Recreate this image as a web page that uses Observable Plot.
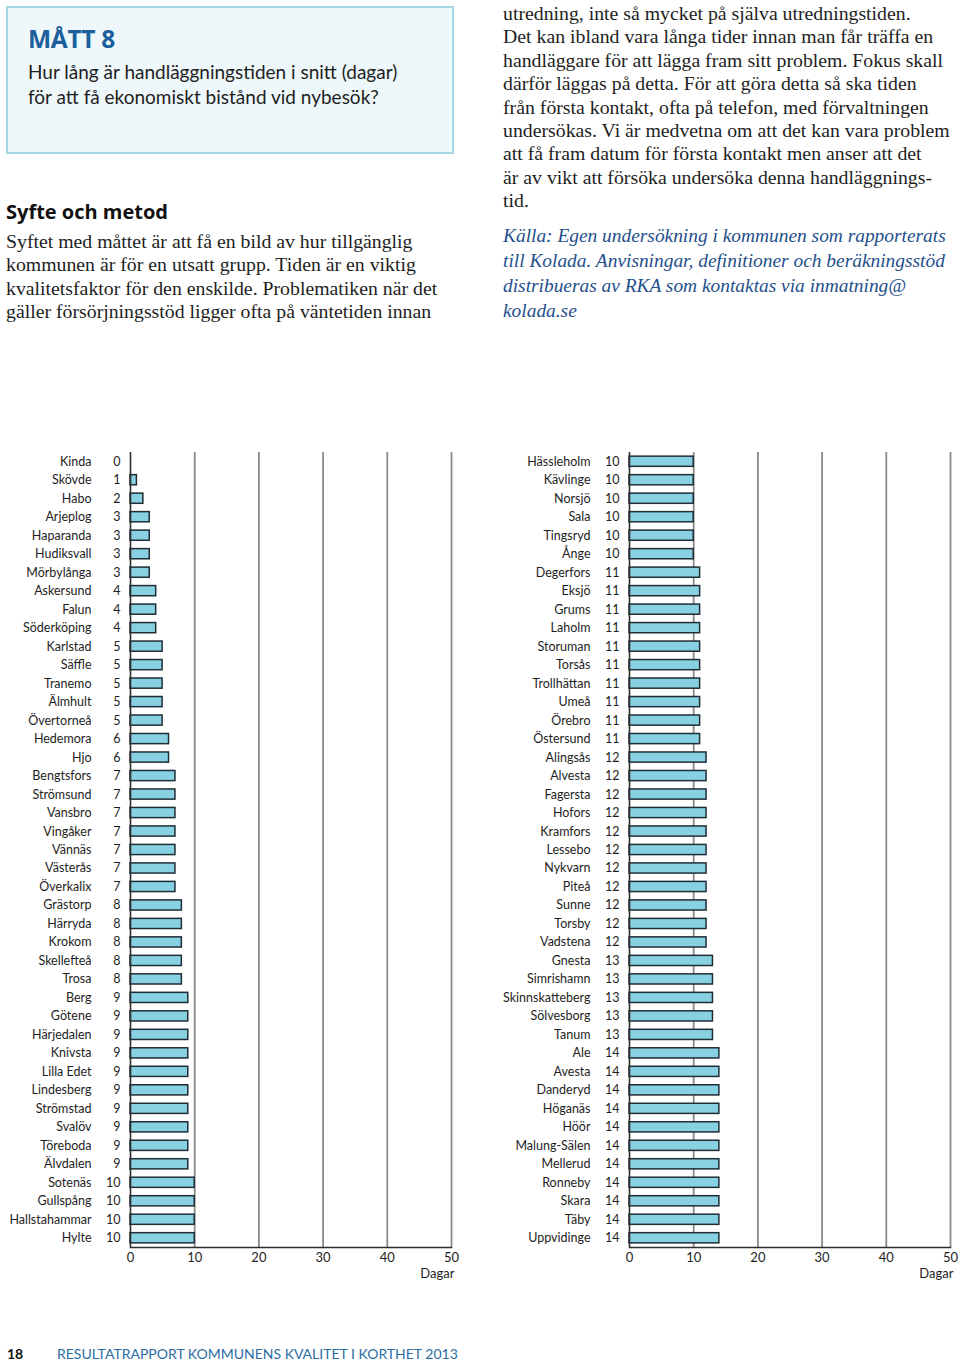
<!DOCTYPE html>
<html>
<head>
<meta charset="utf-8">
<script src="https://cdn.jsdelivr.net/npm/d3@7"></script>
<script src="https://cdn.jsdelivr.net/npm/@observablehq/plot@0.6"></script>
<style>
  html, body { margin: 0; padding: 0; background: #fff; }
  body { width: 960px; height: 1363px; position: relative; overflow: hidden; color: #1e1e1e; }
  .abs { position: absolute; white-space: nowrap; }
  .box { position: absolute; left: 6px; top: 6px; width: 444px; height: 144px; background: #eef7fa; border: 2px solid #a6d6e3; }
  .matt { font-family: "Open Sans", sans-serif; font-weight: 700; font-size: 24.5px; line-height: 30px; color: #1b5f9c; letter-spacing: -0.3px; }
  .q { font-family: "Lato", sans-serif; font-size: 19px; line-height: 25px; color: #1e1e1e; }
  .h2 { font-family: "Open Sans", sans-serif; font-weight: 700; font-size: 20px; line-height: 26px; color: #111; }
  .serif { font-family: "Liberation Serif", serif; font-size: 19.8px; line-height: 23.4px; color: #1e1e1e; }
  .kalla { font-family: "Liberation Serif", serif; font-style: italic; font-size: 19.4px; line-height: 25px; color: #1f4f8c; }
  .foot { font-family: "Lato", sans-serif; font-size: 14px; line-height: 18px; }
  .chart { position: absolute; top: 440px; }
</style>
</head>
<body>
<div class="box"></div>
<div class="abs matt" style="left:28px; top:24px;">MÅTT 8</div>
<div class="abs q" style="left:28px; top:59px;">Hur lång är handläggningstiden i snitt (dagar)<br>för att få ekonomiskt bistånd vid nybesök?</div>
<div class="abs h2" style="left:6px; top:199px;">Syfte och metod</div>
<div class="abs serif" style="left:6px; top:230px;">Syftet med måttet är att få en bild av hur tillgänglig<br>kommunen är för en utsatt grupp. Tiden är en viktig<br>kvalitetsfaktor för den enskilde. Problematiken när det<br>gäller försörjningsstöd ligger ofta på väntetiden innan</div>
<div class="abs serif" style="left:503px; top:2px;">utredning, inte så mycket på själva utredningstiden.<br>Det kan ibland vara långa tider innan man får träffa en<br>handläggare för att lägga fram sitt problem. Fokus skall<br>därför läggas på detta. För att göra detta så ska tiden<br>från första kontakt, ofta på telefon, med förvaltningen<br>undersökas. Vi är medvetna om att det kan vara problem<br>att få fram datum för första kontakt men anser att det<br>är av vikt att försöka undersöka denna handläggnings-<br>tid.</div>
<div class="abs kalla" style="left:503px; top:223px;">Källa: Egen undersökning i kommunen som rapporterats<br>till Kolada. Anvisningar, definitioner och beräkningsstöd<br>distribueras av RKA som kontaktas via inmatning@<br>kolada.se</div>
<div id="left" class="chart" style="left:0px;"></div>
<div id="right" class="chart" style="left:480px;"></div>
<div class="abs foot" style="left:7px; top:1345px; font-weight:700; color:#111;">18</div>
<div class="abs foot" style="left:57px; top:1345px; color:#2b6ca3;">RESULTATRAPPORT KOMMUNENS KVALITET I KORTHET 2013</div>
<script>
const leftNames = ["Kinda","Skövde","Habo","Arjeplog","Haparanda","Hudiksvall","Mörbylånga","Askersund","Falun","Söderköping","Karlstad","Säffle","Tranemo","Älmhult","Övertorneå","Hedemora","Hjo","Bengtsfors","Strömsund","Vansbro","Vingåker","Vännäs","Västerås","Överkalix","Grästorp","Härryda","Krokom","Skellefteå","Trosa","Berg","Götene","Härjedalen","Knivsta","Lilla Edet","Lindesberg","Strömstad","Svalöv","Töreboda","Älvdalen","Sotenäs","Gullspång","Hallstahammar","Hylte"];
const leftValues = [0,1,2,3,3,3,3,4,4,4,5,5,5,5,5,6,6,7,7,7,7,7,7,7,8,8,8,8,8,9,9,9,9,9,9,9,9,9,9,10,10,10,10];
const rightNames = ["Hässleholm","Kävlinge","Norsjö","Sala","Tingsryd","Ånge","Degerfors","Eksjö","Grums","Laholm","Storuman","Torsås","Trollhättan","Umeå","Örebro","Östersund","Alingsås","Alvesta","Fagersta","Hofors","Kramfors","Lessebo","Nykvarn","Piteå","Sunne","Torsby","Vadstena","Gnesta","Simrishamn","Skinnskatteberg","Sölvesborg","Tanum","Ale","Avesta","Danderyd","Höganäs","Höör","Malung-Sälen","Mellerud","Ronneby","Skara","Täby","Uppvidinge"];
const rightValues = [10,10,10,10,10,10,11,11,11,11,11,11,11,11,11,11,12,12,12,12,12,12,12,12,12,12,12,13,13,13,13,13,14,14,14,14,14,14,14,14,14,14,14];
const xTicks = [0,10,20,30,40,50];
const gridTicks = [10,20,30,40,50];
const xLabel = "Dagar";

function chart(names, values, width, marginLeft, marginRight) {
  const data = names.map((n, i) => ({name: n, value: values[i]}));
  return Plot.plot({
    width, height: 850,
    marginTop: 12, marginBottom: 43, marginLeft, marginRight,
    style: {fontFamily: "Lato, sans-serif", fontSize: "12.5px", color: "#1e1e1e", background: "transparent", overflow: "visible"},
    x: {domain: [0, 50]},
    y: {domain: names, paddingInner: 0.45, paddingOuter: 0.225, round: false},
    marks: [
      Plot.ruleX(gridTicks, {stroke: "#8a8a8a", strokeWidth: 1.8}),
      Plot.barX(data, {x: "value", y: "name", fill: "#88d1e2", stroke: "#1f2d35", strokeWidth: 1.5}),
      Plot.ruleX([0], {stroke: "#2e2e2e", strokeWidth: 1.6}),
      Plot.frame({anchor: "bottom", stroke: "#2e2e2e", strokeWidth: 1.6}),
      Plot.axisY({tickSize: 0, tickPadding: 39, label: null}),
      Plot.axisX({ticks: xTicks, tickSize: 0, tickPadding: 5, label: null, fontSize: 13}),
      Plot.text([xLabel], {text: d => d, frameAnchor: "bottom-right", lineAnchor: "middle", dy: 26, dx: 3, textAnchor: "end", fontSize: 13}),
      Plot.text(data, {y: "name", text: d => String(d.value), frameAnchor: "left", dx: -10, textAnchor: "end"})
    ]
  });
}

document.getElementById("left").appendChild(chart(leftNames, leftValues, 470, 130, 19));
document.getElementById("right").appendChild(chart(rightNames, rightValues, 480, 149, 10));
</script>
</body>
</html>
